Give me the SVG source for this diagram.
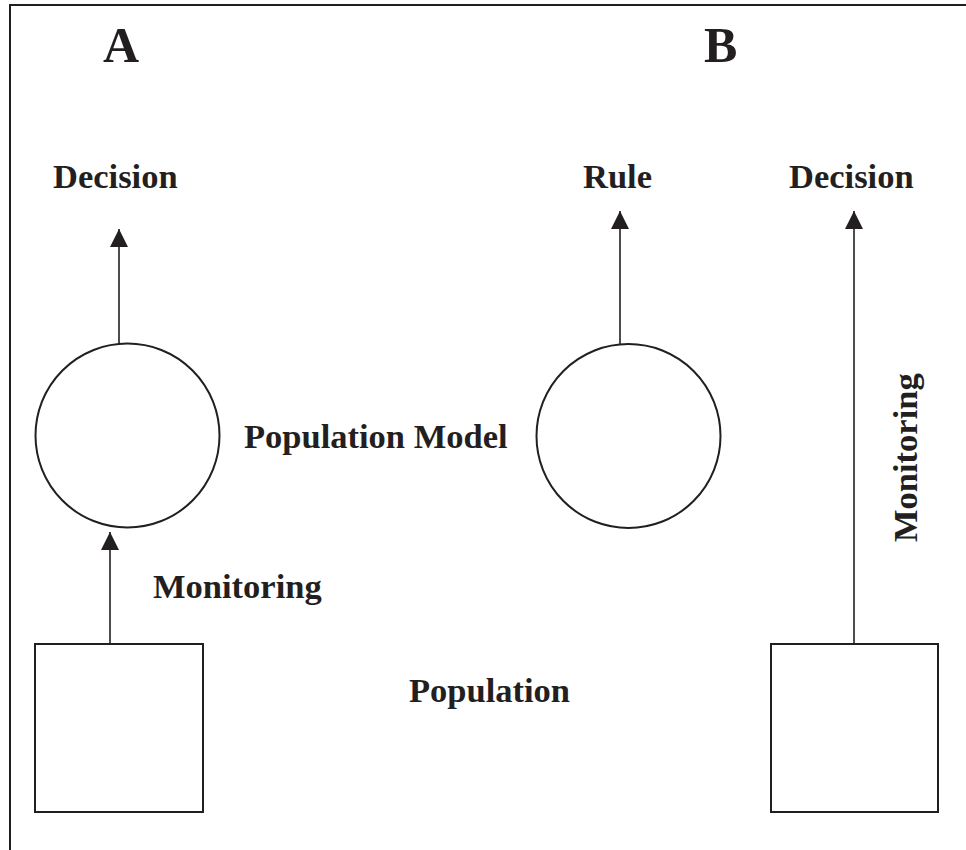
<svg xmlns="http://www.w3.org/2000/svg" width="966" height="850" viewBox="0 0 966 850">
<style>
.t{font-family:"Liberation Serif","Times New Roman",serif;font-weight:bold;fill:#231f20;}
.lbl{font-size:34.5px;}
.big{font-size:50px;}
.shape{fill:#ffffff;stroke:#231f20;stroke-width:2;}
.ln{stroke:#231f20;stroke-width:1.6;fill:none;}
</style>
<defs>
<marker id="ah" viewBox="0 0 18 18" refX="18" refY="9" markerWidth="18" markerHeight="18" markerUnits="userSpaceOnUse" orient="auto">
<path d="M0,0 L18,9 L0,18 z" fill="#231f20"/>
</marker>
</defs>
<rect width="966" height="850" fill="#ffffff"/>
<g id="frame">
<path d="M10,1000 L10,5 L1000,5" fill="none" stroke="#231f20" stroke-width="2"/>
</g>
<g id="titles">
<text class="t big" x="103" y="62">A</text>
<text class="t big" x="704" y="62">B</text>
</g>
<g id="connectors">
<line class="ln" x1="119" y1="344" x2="119" y2="229" marker-end="url(#ah)"/>
<line class="ln" x1="110" y1="649" x2="110" y2="532" marker-end="url(#ah)"/>
<line class="ln" x1="620" y1="344" x2="620" y2="211" marker-end="url(#ah)"/>
<line class="ln" x1="854" y1="644" x2="854" y2="211" marker-end="url(#ah)"/>
</g>
<g id="modelA">
<circle class="shape" cx="127.5" cy="435.5" r="92"/>
</g>
<g id="modelB">
<circle class="shape" cx="628.5" cy="436" r="92"/>
</g>
<g id="populationA">
<rect class="shape" x="35" y="644" width="168" height="168"/>
</g>
<g id="populationB">
<rect class="shape" x="771" y="644" width="167" height="168"/>
</g>
<g id="labels">
<text class="t lbl" x="53" y="188">Decision</text>
<text class="t lbl" x="583" y="188">Rule</text>
<text class="t lbl" x="789" y="188">Decision</text>
<text class="t lbl" x="244" y="448">Population Model</text>
<text class="t lbl" x="153" y="598">Monitoring</text>
<text class="t lbl" x="409" y="702">Population</text>
<text class="t lbl" transform="translate(917,542) rotate(-90)">Monitoring</text>
</g>
</svg>
